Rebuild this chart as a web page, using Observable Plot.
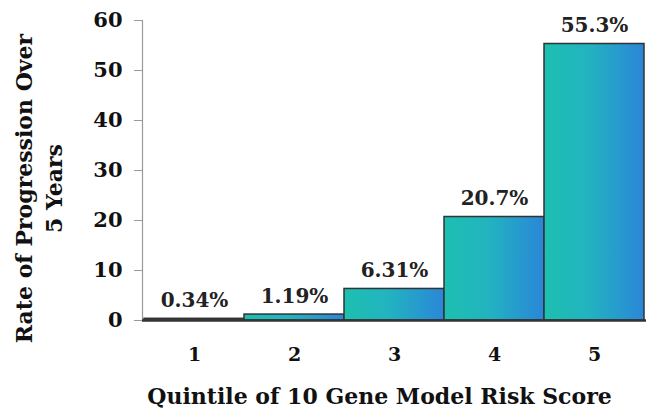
<!DOCTYPE html>
<html>
<head>
<meta charset="utf-8">
<script src="https://cdn.jsdelivr.net/npm/d3@7"></script>
<script src="https://cdn.jsdelivr.net/npm/@observablehq/plot@0.6"></script>
<style>
  html, body { margin: 0; padding: 0; background: #fff; }
  #chart svg { font-family: "DejaVu Serif", serif; font-weight: bold; }
</style>
</head>
<body>
<div id="chart"></div>
<script>
const quintiles = ["1", "2", "3", "4", "5"];
const rates = [0.34, 1.19, 6.31, 20.7, 55.3];
const rateLabels = ["0.34%", "1.19%", "6.31%", "20.7%", "55.3%"];
const yTicks = [0, 10, 20, 30, 40, 50, 60];

const data = quintiles.map((q, i) => ({q, rate: rates[i], label: rateLabels[i]}));

const chart = Plot.plot({
  width: 646,
  height: 416,
  marginLeft: 142,
  marginRight: 0,
  marginTop: 20,
  marginBottom: 96,
  style: {fontFamily: "DejaVu Serif, serif", fontWeight: "bold", background: "#fff", color: "#111"},
  x: {domain: quintiles, padding: 0},
  y: {domain: [0, 60], ticks: yTicks},
  marks: [
    Plot.frame({anchor: "left", stroke: "#999", strokeWidth: 1.2}),
    Plot.axisY({ticks: yTicks, tickSize: 8, tickPadding: 12, fontSize: 21, label: null, stroke: "#999"}),
    Plot.axisX({tickSize: 0, tickPadding: 27, fontSize: 19, label: null}),
    Plot.barY(data, {x: "q", y: "rate", fill: "url(#barGrad)", stroke: "#333", strokeWidth: 1.5}),
    Plot.ruleY([0], {stroke: "#333", strokeWidth: 2.5}),
    Plot.text(data, {x: "q", y: "rate", text: "label", dy: -18, fontSize: 20, fill: "#222", lineAnchor: "middle"}),
    Plot.text(["Quintile of 10 Gene Model Risk Score"], {frameAnchor: "bottom", dy: 76, fontSize: 22, fill: "#111", lineAnchor: "middle", dx: -15}),
    Plot.text(["Rate of Progression Over\n5 Years"], {frameAnchor: "left", textAnchor: "middle", rotate: -90, dx: -105, dy: 18, fontSize: 22, fill: "#111", lineAnchor: "middle", lineHeight: 1.35})
  ]
});

const svg = d3.select(chart);
const defs = svg.insert("defs", ":first-child");
const g = defs.append("linearGradient").attr("id", "barGrad").attr("x1", "0").attr("x2", "1").attr("y1", "0").attr("y2", "0");
g.append("stop").attr("offset", "0%").attr("stop-color", "#1dc0b0");
g.append("stop").attr("offset", "45%").attr("stop-color", "#22b3c0");
g.append("stop").attr("offset", "100%").attr("stop-color", "#2a86d8");

document.getElementById("chart").appendChild(chart);
</script>
</body>
</html>
